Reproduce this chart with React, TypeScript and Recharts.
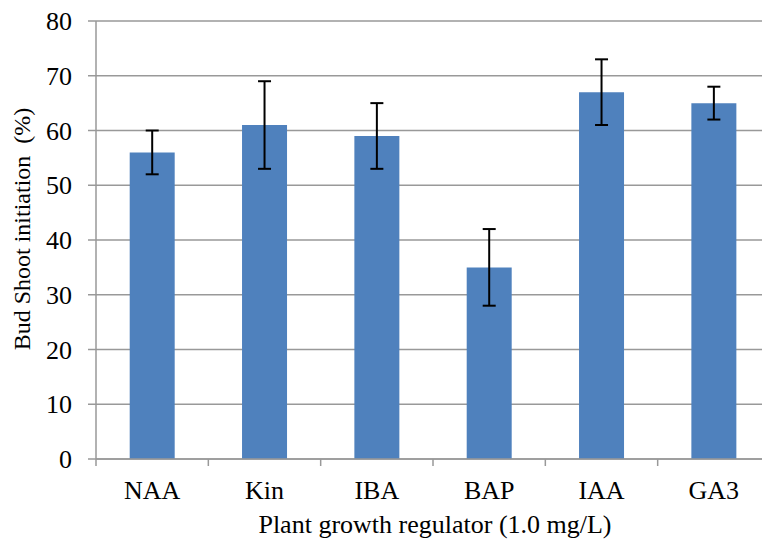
import React from "react";
import { BarChart, Bar, XAxis, YAxis, CartesianGrid, ErrorBar } from "recharts";

const categories = ["NAA", "Kin", "IBA", "BAP", "IAA", "GA3"];
const values = [56, 61, 59, 35, 67, 65];
const errors = [4, 8, 6, 7, 6, 3];
const yTicks = [0, 10, 20, 30, 40, 50, 60, 70, 80];

const data = categories.map((c, i) => ({ name: c, value: values[i], err: errors[i] }));

const CHART_W = 780;
const CHART_H = 544;
const X_AXIS_H = 30;
const MARGIN = { top: 21, right: 10, bottom: 55, left: 0 };
const YAXIS_W = 96;
const BAND = (CHART_W - MARGIN.right - MARGIN.left - YAXIS_W) / categories.length;
const FONT = "'Liberation Serif', 'Times New Roman', serif";

const XTick = (props: any) => {
  const { x, y, payload, index } = props;
  const left = x - BAND / 2;
  const right = x + BAND / 2;
  return (
    <g>
      <line x1={left} y1={y} x2={left} y2={y + 7} stroke="#999" strokeWidth={1.5} />
      {index === categories.length - 1 && (
        <line x1={right} y1={y} x2={right} y2={y + 7} stroke="#999" strokeWidth={1.5} />
      )}
      <text x={x} y={y + 40} textAnchor="middle" fontSize={26} fontFamily={FONT} fill="#000">
        {payload.value}
      </text>
    </g>
  );
};

const YTick = (props: any) => {
  const { x, y, payload } = props;
  return (
    <text x={x} y={y + 9} textAnchor="end" fontSize={26} fontFamily={FONT} fill="#000">
      {payload.value}
    </text>
  );
};

export default function App() {
  return (
    <div style={{ position: "absolute", left: 0, top: 0, width: 762, height: 544, overflow: "hidden", background: "#fff" }}>
      <BarChart width={CHART_W} height={CHART_H} data={data} margin={MARGIN} barCategoryGap="30%">
        <CartesianGrid vertical={false} stroke="#999" strokeWidth={1.5} />
        <XAxis
          dataKey="name"
          height={X_AXIS_H}
          axisLine={{ stroke: "#999", strokeWidth: 1.5 }}
          tickLine={false}
          tickSize={0}
          tickMargin={0}
          tick={<XTick />}
          interval={0}
        />
        <YAxis
          width={YAXIS_W}
          domain={[0, 80]}
          ticks={yTicks}
          interval={0}
          axisLine={{ stroke: "#999", strokeWidth: 1.5 }}
          tickLine={{ stroke: "#999", strokeWidth: 1.5 }}
          tickSize={8}
          tickMargin={16}
          tick={<YTick />}
        />
        <Bar dataKey="value" fill="#4F81BD" isAnimationActive={false}>
          <ErrorBar dataKey="err" width={6.5} stroke="#000" strokeWidth={2} />
        </Bar>
        <text x={435} y={533} textAnchor="middle" fontSize={26} fontFamily={FONT} fill="#000">
          Plant growth regulator (1.0 mg/L)
        </text>
        <text
          x={30}
          y={229}
          textAnchor="middle"
          fontSize={24}
          fontFamily={FONT}
          fill="#000"
          transform="rotate(-90 30 229)"
          style={{ whiteSpace: "pre" }}
        >
          {"Bud Shoot initiation  (%)"}
        </text>
      </BarChart>
    </div>
  );
}
